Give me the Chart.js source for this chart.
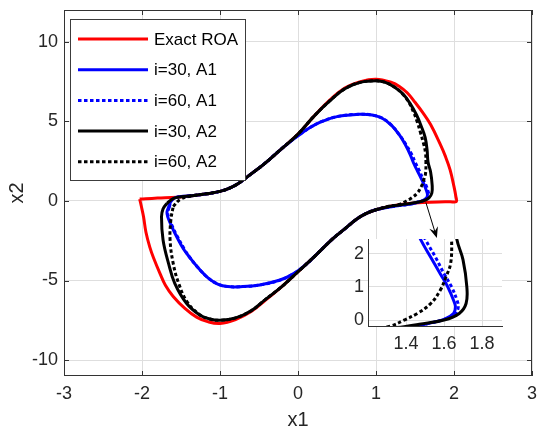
<!DOCTYPE html>
<html>
<head>
<meta charset="utf-8">
<script src="https://cdn.jsdelivr.net/npm/chart.js@4.4.1/dist/chart.umd.min.js"></script>
<style>
  body { margin: 0; background: #fff; }
  #wrap { position: relative; width: 538px; height: 431px; }
  #main { position: absolute; left: 0; top: 0; }
  #inset { position: absolute; left: 330px; top: 234px; }
</style>
</head>
<body>
<div id="wrap">
  <canvas id="main" width="538" height="431"></canvas>
  <canvas id="inset" width="175" height="130"></canvas>
</div>
<script>
// ---- data (x1, x2) ----
const roaX = [-2.03, -1.95, -1.8, -1.55, -1.38, -1.17, -1.0, -0.87, -0.75, -0.6, -0.44, -0.23, 0, 0.2, 0.41, 0.6, 0.8, 1.0, 1.2, 1.3, 1.4, 1.5, 1.6, 1.7, 1.82, 1.89, 1.95, 2.0, 2.025, 2.03, 1.95, 1.8, 1.6, 1.39, 1.2, 1.0, 0.87, 0.75, 0.6, 0.44, 0.23, 0, -0.2, -0.42, -0.6, -0.8, -1.0, -1.15, -1.3, -1.45, -1.6, -1.7, -1.77, -1.85, -1.9, -1.95, -1.98, -2.01, -2.03];
const roaY = [0.12, 0.14, 0.18, 0.24, 0.32, 0.45, 0.6, 0.82, 1.15, 1.7, 2.3, 3.2, 4.2, 5.3, 6.35, 7.1, 7.5, 7.65, 7.45, 7.2, 6.8, 6.2, 5.55, 4.8, 3.6, 2.8, 1.95, 0.9, 0.25, -0.04, -0.05, -0.06, -0.1, -0.17, -0.32, -0.55, -0.8, -1.15, -1.75, -2.4, -3.4, -4.45, -5.35, -6.25, -6.95, -7.45, -7.7, -7.6, -7.3, -6.75, -6.0, -5.3, -4.55, -3.6, -2.9, -1.95, -1.0, -0.3, 0.12];

const a1i30X = [-1.66, -1.62, -1.55, -1.38, -1.17, -1.0, -0.87, -0.75, -0.6, -0.44, -0.23, -0.1, 0, 0.15, 0.3, 0.5, 0.79, 0.95, 1.08, 1.2, 1.3, 1.38, 1.44, 1.48, 1.53, 1.58, 1.62, 1.65, 1.66, 1.65, 1.6, 1.52, 1.44, 1.25, 1.0, 0.87, 0.75, 0.6, 0.44, 0.23, 0.1, -0.05, -0.23, -0.49, -0.74, -0.9, -1.03, -1.15, -1.28, -1.38, -1.47, -1.55, -1.62, -1.67, -1.68, -1.66];
const a1i30Y = [-0.4, 0.05, 0.24, 0.32, 0.45, 0.6, 0.82, 1.15, 1.7, 2.3, 3.2, 3.72, 4.1, 4.6, 4.98, 5.3, 5.45, 5.4, 5.2, 4.75, 4.15, 3.5, 2.9, 2.4, 1.9, 1.4, 1.0, 0.6, 0.4, 0.2, 0.02, -0.1, -0.2, -0.32, -0.55, -0.8, -1.15, -1.75, -2.4, -3.4, -4.0, -4.55, -4.97, -5.28, -5.39, -5.38, -5.22, -4.85, -4.2, -3.6, -3.0, -2.3, -1.6, -1.0, -0.7, -0.4];

const a1i60X = [-1.65, -1.62, -1.55, -1.38, -1.17, -1.0, -0.87, -0.75, -0.6, -0.44, -0.23, -0.1, 0, 0.15, 0.3, 0.5, 0.79, 0.95, 1.08, 1.2, 1.3, 1.39, 1.46, 1.505, 1.555, 1.6, 1.64, 1.668, 1.675, 1.66, 1.6, 1.52, 1.44, 1.25, 1.0, 0.87, 0.75, 0.6, 0.44, 0.23, 0.1, -0.05, -0.23, -0.49, -0.74, -0.9, -1.03, -1.15, -1.28, -1.38, -1.46, -1.54, -1.61, -1.66, -1.67, -1.65];
const a1i60Y = [-0.4, 0.05, 0.24, 0.32, 0.45, 0.6, 0.82, 1.15, 1.7, 2.3, 3.2, 3.72, 4.1, 4.6, 4.98, 5.3, 5.45, 5.4, 5.2, 4.75, 4.15, 3.5, 2.9, 2.4, 1.9, 1.4, 1.0, 0.6, 0.4, 0.2, 0.02, -0.1, -0.2, -0.32, -0.55, -0.8, -1.15, -1.75, -2.4, -3.4, -4.0, -4.55, -4.97, -5.28, -5.39, -5.38, -5.22, -4.85, -4.2, -3.6, -3.0, -2.3, -1.6, -1.0, -0.7, -0.4];

const a2i30X = [-1.68, -1.6, -1.5, -1.38, -1.17, -1.0, -0.87, -0.75, -0.6, -0.44, -0.23, 0, 0.2, 0.41, 0.6, 0.8, 1.0, 1.12, 1.24, 1.35, 1.44, 1.52, 1.58, 1.63, 1.655, 1.667, 1.70, 1.72, 1.716, 1.68, 1.6, 1.47, 1.39, 1.2, 1.0, 0.87, 0.75, 0.6, 0.44, 0.23, 0, -0.2, -0.42, -0.6, -0.8, -1.0, -1.13, -1.26, -1.43, -1.58, -1.66, -1.73, -1.75, -1.73, -1.68];
const a2i30Y = [-0.15, 0.15, 0.26, 0.32, 0.45, 0.6, 0.82, 1.15, 1.7, 2.3, 3.2, 4.2, 5.3, 6.3, 7.05, 7.45, 7.55, 7.45, 7.15, 6.7, 6.1, 5.4, 4.7, 4.0, 3.2, 2.45, 1.82, 1.0, 0.5, 0.2, 0.0, -0.13, -0.2, -0.32, -0.55, -0.8, -1.15, -1.75, -2.4, -3.4, -4.45, -5.35, -6.2, -6.9, -7.35, -7.5, -7.42, -7.17, -6.43, -5.18, -3.92, -2.45, -1.0, -0.5, -0.15];

const a2i60X = [-1.6, -1.51, -1.38, -1.17, -1.0, -0.87, -0.75, -0.6, -0.44, -0.23, 0, 0.2, 0.41, 0.6, 0.8, 1.0, 1.12, 1.24, 1.34, 1.42, 1.48, 1.53, 1.57, 1.61, 1.635, 1.64, 1.635, 1.61, 1.58, 1.53, 1.46, 1.39, 1.32, 1.15, 1.0, 0.87, 0.75, 0.6, 0.44, 0.23, 0, -0.2, -0.42, -0.6, -0.8, -1.0, -1.13, -1.26, -1.42, -1.53, -1.6, -1.64, -1.63, -1.6];
const a2i60Y = [-0.35, 0.1, 0.3, 0.45, 0.6, 0.82, 1.15, 1.7, 2.3, 3.2, 4.2, 5.3, 6.3, 7.05, 7.45, 7.55, 7.45, 7.15, 6.72, 6.2, 5.6, 4.95, 4.3, 3.6, 3.0, 2.45, 1.72, 1.3, 0.9, 0.5, 0.2, 0.0, -0.18, -0.35, -0.55, -0.8, -1.15, -1.75, -2.4, -3.4, -4.45, -5.35, -6.2, -6.9, -7.35, -7.5, -7.42, -7.15, -6.35, -5.18, -3.92, -2.45, -1.2, -0.35];

const seriesLabels = ['Exact ROA', 'i=30, A1', 'i=60, A1', 'i=30, A2', 'i=60, A2'];

const xTicks = [-3, -2, -1, 0, 1, 2, 3];
const yTicks = [-10, -5, 0, 5, 10];
const insetXTicks = [1.4, 1.6, 1.8];
const insetYTicks = [0, 1, 2];

// arrow from main curve down to the zoomed view
const arrowFrom = [1.64, -0.1];
const arrowTo = [1.78, -2.33];

// ---- styles ----
const FONT = "'Liberation Sans', Arial, sans-serif";
const textColor = '#262626';
const gridColor = '#dedede';
const axisColor = '#333333';
const tickFont = { family: FONT, size: 18 };

const toPoints = (xs, ys) => xs.map((x, i) => ({ x: x, y: ys[i] }));

const series = [
    { label: seriesLabels[0], data: toPoints(roaX, roaY), color: '#ff0000', dash: [] },
    { label: seriesLabels[1], data: toPoints(a1i30X, a1i30Y), color: '#0000ff', dash: [] },
    { label: seriesLabels[2], data: toPoints(a1i60X, a1i60Y), color: '#0000ff', dash: [3.5, 2.5] },
    { label: seriesLabels[3], data: toPoints(a2i30X, a2i30Y), color: '#000000', dash: [] },
    { label: seriesLabels[4], data: toPoints(a2i60X, a2i60Y), color: '#000000', dash: [3.5, 2.5] }
];

function makeDataset(s, i, clip) {
    return {
        label: s.label,
        data: s.data,
        showLine: true,
        borderColor: s.color,
        backgroundColor: s.color,
        borderWidth: 3,
        borderDash: s.dash,
        borderCapStyle: 'butt',
        borderJoinStyle: 'round',
        pointRadius: 0,
        tension: 0.4,
        fill: false,
        clip: clip,
        // later series sit on top, like the original plot order
        order: series.length - i
    };
}

// box around the axes with inward tick marks
const axesBoxPlugin = {
    id: 'axesBox',
    beforeDatasetsDraw(chart) {
        const { ctx, chartArea: a, scales } = chart;
        const len = 5;
        ctx.save();
        ctx.strokeStyle = axisColor;
        ctx.lineWidth = 1;
        ctx.strokeRect(a.left + 0.5, a.top + 0.5, a.right - a.left - 1, a.bottom - a.top - 1);
        ctx.beginPath();
        xTicks.forEach(v => {
            const px = Math.round(scales.x.getPixelForValue(v)) + 0.5;
            ctx.moveTo(px, a.bottom); ctx.lineTo(px, a.bottom - len);
            ctx.moveTo(px, a.top); ctx.lineTo(px, a.top + len);
        });
        yTicks.forEach(v => {
            const py = Math.round(scales.y.getPixelForValue(v)) + 0.5;
            ctx.moveTo(a.left, py); ctx.lineTo(a.left + len, py);
            ctx.moveTo(a.right, py); ctx.lineTo(a.right - len, py);
        });
        ctx.stroke();
        ctx.restore();
    }
};

// legend box in the upper left, axis titles and the arrow
const overlayPlugin = {
    id: 'overlay',
    afterDraw(chart) {
        const { ctx, scales } = chart;
        ctx.save();

        // arrow
        const x0 = scales.x.getPixelForValue(arrowFrom[0]);
        const y0 = scales.y.getPixelForValue(arrowFrom[1]);
        const x1 = scales.x.getPixelForValue(arrowTo[0]);
        const y1 = scales.y.getPixelForValue(arrowTo[1]);
        const ang = Math.atan2(y1 - y0, x1 - x0);
        const c = Math.cos(ang), s = Math.sin(ang);
        ctx.strokeStyle = '#000';
        ctx.fillStyle = '#000';
        ctx.lineWidth = 1;
        ctx.beginPath();
        ctx.moveTo(x0, y0);
        ctx.lineTo(x1 - 6 * c, y1 - 6 * s);
        ctx.stroke();
        ctx.beginPath();
        ctx.moveTo(x1, y1);
        ctx.lineTo(x1 - 11 * c + 4.5 * s, y1 - 11 * s - 4.5 * c);
        ctx.lineTo(x1 - 7 * c, y1 - 7 * s);
        ctx.lineTo(x1 - 11 * c - 4.5 * s, y1 - 11 * s + 4.5 * c);
        ctx.closePath();
        ctx.fill();

        // legend
        const lx = 70, ly = 19, lw = 175, lh = 161;
        ctx.fillStyle = '#fff';
        ctx.fillRect(lx, ly, lw, lh);
        ctx.strokeStyle = '#3c3c3c';
        ctx.lineWidth = 1;
        ctx.strokeRect(lx + 0.5, ly + 0.5, lw, lh);
        ctx.font = '17px ' + FONT;
        ctx.textBaseline = 'middle';
        ctx.textAlign = 'left';
        series.forEach((item, i) => {
            const yy = 39 + i * 30.7;
            ctx.strokeStyle = item.color;
            ctx.lineWidth = 3;
            ctx.lineCap = 'butt';
            ctx.setLineDash(item.dash);
            ctx.beginPath();
            ctx.moveTo(78, yy);
            ctx.lineTo(148, yy);
            ctx.stroke();
            ctx.setLineDash([]);
            ctx.fillStyle = '#000';
            ctx.fillText(item.label, 154, yy + 1);
        });

        // axis titles
        ctx.fillStyle = textColor;
        ctx.font = '20px ' + FONT;
        ctx.textAlign = 'center';
        ctx.fillText('x1', (chart.chartArea.left + chart.chartArea.right) / 2, 420);
        ctx.translate(17, (chart.chartArea.top + chart.chartArea.bottom) / 2);
        ctx.rotate(-Math.PI / 2);
        ctx.fillText('x2', 0, 0);
        ctx.restore();
    }
};

const insetBgPlugin = {
    id: 'insetBg',
    beforeDraw(chart) {
        const { ctx, chartArea: a } = chart;
        ctx.save();
        ctx.fillStyle = '#fff';
        ctx.fillRect(a.left, a.top, a.right - a.left, a.bottom - a.top);
        ctx.restore();
    }
};

function fixedBox(size, horizontal) {
    return (s) => {
        if (horizontal) s.height = size; else s.width = size;
        s.paddingLeft = 0; s.paddingRight = 0; s.paddingTop = 0; s.paddingBottom = 0;
    };
}

new Chart(document.getElementById('main'), {
    type: 'scatter',
    data: { datasets: series.map((s, i) => makeDataset(s, i, 1.5)) },
    options: {
        responsive: false,
        animation: false,
        events: [],
        layout: { padding: { left: 0, top: 10, right: 6, bottom: 0 } },
        plugins: { legend: { display: false }, tooltip: { enabled: false } },
        scales: {
            x: {
                type: 'linear', min: -3, max: 3,
                afterBuildTicks: s => { s.ticks = xTicks.map(v => ({ value: v })); },
                afterFit: fixedBox(55, true),
                grid: { color: gridColor, drawTicks: false },
                border: { display: false },
                ticks: { color: textColor, font: tickFont, padding: 7, maxRotation: 0, callback: v => String(v) }
            },
            y: {
                type: 'linear', min: -11, max: 12,
                afterBuildTicks: s => { s.ticks = yTicks.map(v => ({ value: v })); },
                afterFit: fixedBox(64, false),
                grid: { color: gridColor, drawTicks: false },
                border: { display: false },
                ticks: { color: textColor, font: tickFont, padding: 6, callback: v => String(v) }
            }
        }
    },
    plugins: [axesBoxPlugin, overlayPlugin]
});

new Chart(document.getElementById('inset'), {
    type: 'scatter',
    data: { datasets: series.slice(1).map((s, i) => makeDataset(s, i + 1, 0)) },
    options: {
        responsive: false,
        animation: false,
        events: [],
        layout: { padding: { left: 0, top: 5, right: 3, bottom: 0 } },
        plugins: { legend: { display: false }, tooltip: { enabled: false } },
        scales: {
            x: {
                type: 'linear', min: 1.2, max: 1.905,
                afterBuildTicks: s => { s.ticks = insetXTicks.map(v => ({ value: v })); },
                afterFit: fixedBox(38, true),
                grid: { color: gridColor, drawTicks: false },
                border: { display: true, color: axisColor, width: 1 },
                ticks: { color: textColor, font: tickFont, padding: 7, maxRotation: 0, callback: v => String(v) }
            },
            y: {
                type: 'linear', min: -0.18, max: 2.45,
                afterBuildTicks: s => { s.ticks = insetYTicks.map(v => ({ value: v })); },
                afterFit: fixedBox(38, false),
                grid: { color: gridColor, drawTicks: false },
                border: { display: true, color: axisColor, width: 1 },
                ticks: { color: textColor, font: tickFont, padding: 4, callback: v => String(v) }
            }
        }
    },
    plugins: [insetBgPlugin]
});
</script>
</body>
</html>
